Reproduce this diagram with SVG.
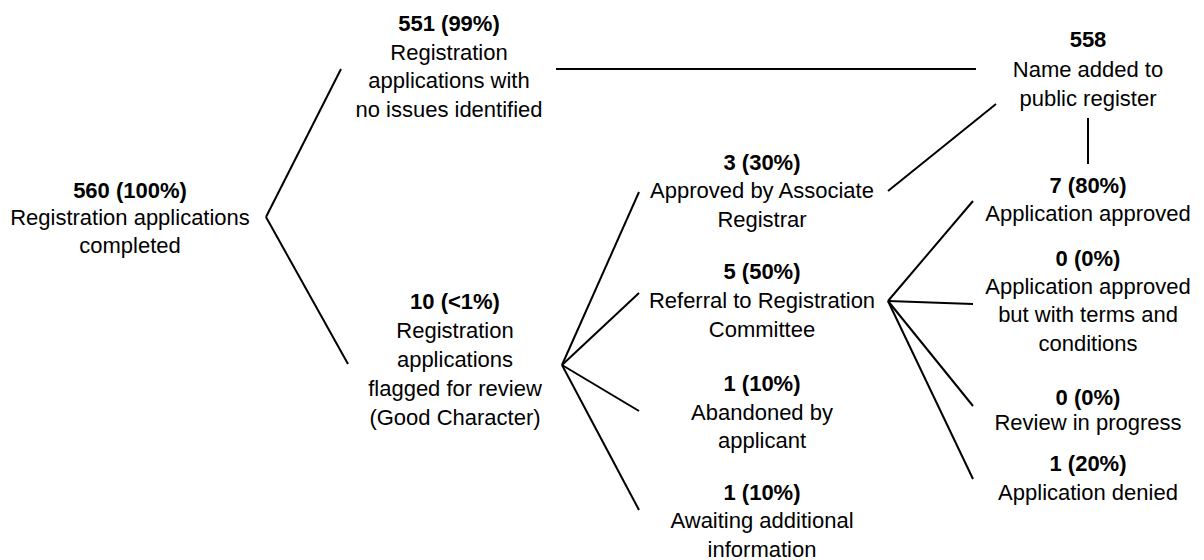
<svg xmlns="http://www.w3.org/2000/svg" width="1204" height="560" viewBox="0 0 1204 560">
<style>
text{font-family:"Liberation Sans",Arial,sans-serif;font-size:22px;fill:#000;text-anchor:middle}
.b{font-weight:bold}
#connectors line{stroke:#000;stroke-width:2;stroke-linecap:butt}
</style>
<rect width="1204" height="560" fill="#fff"/>
<g id="connectors">
<line x1="266" y1="217" x2="341" y2="69"/>
<line x1="266" y1="217" x2="348" y2="364"/>
<line x1="556" y1="69" x2="976" y2="69"/>
<line x1="888" y1="191" x2="996" y2="104"/>
<line x1="1088" y1="118" x2="1088" y2="164"/>
<line x1="562" y1="365" x2="639" y2="192"/>
<line x1="562" y1="365" x2="639" y2="293"/>
<line x1="562" y1="365" x2="639" y2="411"/>
<line x1="562" y1="365" x2="639" y2="510"/>
<line x1="888" y1="301" x2="973" y2="201"/>
<line x1="888" y1="301" x2="973" y2="304"/>
<line x1="888" y1="301" x2="973" y2="406"/>
<line x1="888" y1="301" x2="973" y2="479"/>
</g>
<g id="n560"><text x="130" y="198" class="b">560 (100%)</text><text x="130" y="225">Registration applications</text><text x="130" y="253">completed</text></g>
<g id="n551"><text x="449" y="31" class="b">551 (99%)</text><text x="449" y="60">Registration</text><text x="449" y="88">applications with</text><text x="449" y="117">no issues identified</text></g>
<g id="n10"><text x="455" y="309" class="b">10 (&lt;1%)</text><text x="455" y="338">Registration</text><text x="455" y="367">applications</text><text x="455" y="396">flagged for review</text><text x="455" y="425">(Good Character)</text></g>
<g id="n3"><text x="762" y="170" class="b">3 (30%)</text><text x="762" y="198">Approved by Associate</text><text x="762" y="227">Registrar</text></g>
<g id="n5"><text x="762" y="279" class="b">5 (50%)</text><text x="762" y="308">Referral to Registration</text><text x="762" y="337">Committee</text></g>
<g id="n1a"><text x="762" y="391" class="b">1 (10%)</text><text x="762" y="420">Abandoned by</text><text x="762" y="448">applicant</text></g>
<g id="n1b"><text x="762" y="500" class="b">1 (10%)</text><text x="762" y="528">Awaiting additional</text><text x="762" y="557">information</text></g>
<g id="n558"><text x="1088" y="47" class="b">558</text><text x="1088" y="77">Name added to</text><text x="1088" y="106">public register</text></g>
<g id="n7"><text x="1088" y="193" class="b">7 (80%)</text><text x="1088" y="221">Application approved</text></g>
<g id="n0a"><text x="1088" y="266" class="b">0 (0%)</text><text x="1088" y="294">Application approved</text><text x="1088" y="322">but with terms and</text><text x="1088" y="351">conditions</text></g>
<g id="n0b"><text x="1088" y="405" class="b">0 (0%)</text><text x="1088" y="430">Review in progress</text></g>
<g id="n1c"><text x="1088" y="471" class="b">1 (20%)</text><text x="1088" y="500">Application denied</text></g>
</svg>
